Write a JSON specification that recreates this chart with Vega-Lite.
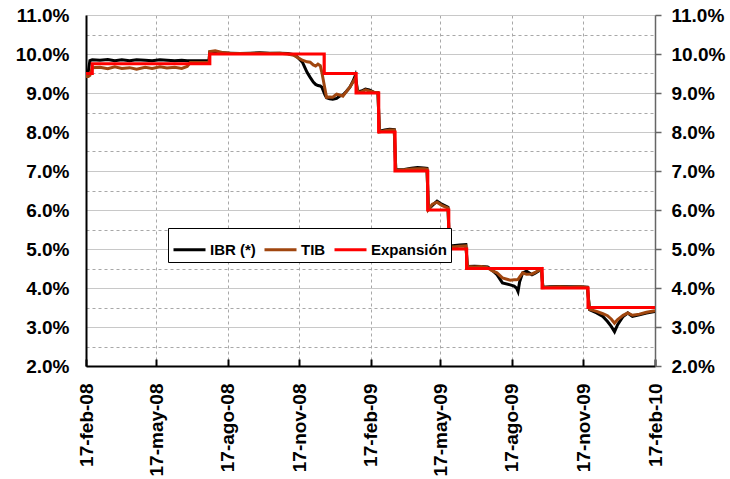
{
  "$schema": "https://vega.github.io/schema/vega-lite/v6.json",
  "width": 569,
  "height": 351,
  "autosize": "none",
  "padding": {"left": 86, "top": 15, "right": 75, "bottom": 113},
  "background": "white",
  "config": {
    "view": {"stroke": null},
    "font": "Liberation Sans",
    "axis": {"labelFont": "Liberation Sans", "labelFontWeight": "bold", "labelFontSize": 19, "labelColor": "#000", "labelOverlap": false, "labelFlush": false, "title": null},
    "legend": {
      "orient": "none", "legendX": 82, "legendY": 213, "direction": "horizontal",
      "title": null, "strokeColor": "#000", "strokeWidth": 1, "fillColor": "white",
      "padding": 4, "symbolType": "stroke", "symbolSize": 1024, "symbolStrokeWidth": 3,
      "labelFont": "Liberation Sans", "labelFontWeight": "bold", "labelFontSize": 15, "labelColor": "#000",
      "labelOffset": 3, "columnPadding": 2
    }
  },
  "datasets": {
    "mkt": [
      {"d":"2008-02-17","i":9.55,"t":9.42},
      {"d":"2008-02-20","i":9.55,"t":9.42},
      {"d":"2008-02-22","i":9.83,"t":9.45},
      {"d":"2008-02-25","i":9.85,"t":9.65},
      {"d":"2008-03-06","i":9.84,"t":9.66},
      {"d":"2008-03-16","i":9.86,"t":9.62},
      {"d":"2008-03-25","i":9.83,"t":9.67},
      {"d":"2008-04-03","i":9.85,"t":9.63},
      {"d":"2008-04-13","i":9.83,"t":9.65},
      {"d":"2008-04-22","i":9.85,"t":9.61},
      {"d":"2008-05-03","i":9.84,"t":9.66},
      {"d":"2008-05-12","i":9.83,"t":9.63},
      {"d":"2008-05-22","i":9.85,"t":9.67},
      {"d":"2008-05-31","i":9.84,"t":9.64},
      {"d":"2008-06-10","i":9.83,"t":9.66},
      {"d":"2008-06-19","i":9.84,"t":9.63},
      {"d":"2008-06-26","i":9.83,"t":9.68},
      {"d":"2008-06-30","i":9.83,"t":9.78},
      {"d":"2008-07-12","i":9.83,"t":9.78},
      {"d":"2008-07-23","i":9.83,"t":9.78},
      {"d":"2008-07-24","i":9.83,"t":9.78},
      {"d":"2008-07-25","i":10.05,"t":10.06},
      {"d":"2008-08-01","i":10.04,"t":10.08},
      {"d":"2008-08-10","i":10.03,"t":10.04},
      {"d":"2008-08-20","i":10.02,"t":10.02},
      {"d":"2008-09-02","i":10.01,"t":10.01},
      {"d":"2008-09-15","i":10.02,"t":10.01},
      {"d":"2008-09-27","i":10.03,"t":10.02},
      {"d":"2008-10-10","i":10.02,"t":10.01},
      {"d":"2008-10-23","i":10.02,"t":10.02},
      {"d":"2008-11-02","i":10.01,"t":10.00},
      {"d":"2008-11-10","i":9.98,"t":9.97},
      {"d":"2008-11-14","i":9.93,"t":9.92},
      {"d":"2008-11-21","i":9.79,"t":9.84},
      {"d":"2008-11-27","i":9.53,"t":9.80},
      {"d":"2008-12-01","i":9.40,"t":9.79},
      {"d":"2008-12-05","i":9.28,"t":9.72},
      {"d":"2008-12-08","i":9.22,"t":9.69},
      {"d":"2008-12-11","i":9.19,"t":9.74},
      {"d":"2008-12-14","i":9.18,"t":9.70},
      {"d":"2008-12-16","i":9.15,"t":9.53},
      {"d":"2008-12-20","i":8.95,"t":9.10},
      {"d":"2008-12-22","i":8.88,"t":8.89},
      {"d":"2008-12-26","i":8.85,"t":8.90},
      {"d":"2008-12-30","i":8.84,"t":8.89},
      {"d":"2009-01-04","i":8.86,"t":8.97},
      {"d":"2009-01-08","i":8.92,"t":8.95},
      {"d":"2009-01-12","i":8.95,"t":8.92},
      {"d":"2009-01-17","i":9.05,"t":9.05},
      {"d":"2009-01-21","i":9.15,"t":9.15},
      {"d":"2009-01-25","i":9.30,"t":9.28},
      {"d":"2009-01-28","i":9.45,"t":9.38},
      {"d":"2009-01-31","i":9.03,"t":9.02},
      {"d":"2009-02-05","i":9.05,"t":9.03},
      {"d":"2009-02-10","i":9.10,"t":9.08},
      {"d":"2009-02-15","i":9.08,"t":9.05},
      {"d":"2009-02-21","i":9.02,"t":9.02},
      {"d":"2009-02-26","i":9.01,"t":9.01},
      {"d":"2009-02-28","i":8.02,"t":8.00},
      {"d":"2009-03-07","i":8.05,"t":8.03},
      {"d":"2009-03-13","i":8.07,"t":8.05},
      {"d":"2009-03-19","i":8.06,"t":8.05},
      {"d":"2009-03-21","i":7.03,"t":7.02},
      {"d":"2009-04-01","i":7.04,"t":7.03},
      {"d":"2009-04-10","i":7.07,"t":7.05},
      {"d":"2009-04-18","i":7.09,"t":7.06},
      {"d":"2009-04-26","i":7.08,"t":7.06},
      {"d":"2009-04-30","i":7.07,"t":7.05},
      {"d":"2009-05-02","i":6.02,"t":6.02},
      {"d":"2009-05-07","i":6.12,"t":6.15},
      {"d":"2009-05-13","i":6.23,"t":6.20},
      {"d":"2009-05-19","i":6.15,"t":6.12},
      {"d":"2009-05-27","i":6.07,"t":6.05},
      {"d":"2009-05-29","i":5.08,"t":5.05},
      {"d":"2009-06-05","i":5.09,"t":5.06},
      {"d":"2009-06-11","i":5.10,"t":5.07},
      {"d":"2009-06-19","i":5.11,"t":5.08},
      {"d":"2009-06-21","i":4.55,"t":4.55},
      {"d":"2009-06-30","i":4.56,"t":4.54},
      {"d":"2009-07-09","i":4.55,"t":4.55},
      {"d":"2009-07-17","i":4.54,"t":4.52},
      {"d":"2009-07-22","i":4.47,"t":4.45},
      {"d":"2009-07-29","i":4.34,"t":4.39},
      {"d":"2009-08-05","i":4.13,"t":4.26},
      {"d":"2009-08-15","i":4.08,"t":4.20},
      {"d":"2009-08-20","i":4.05,"t":4.21},
      {"d":"2009-08-23","i":4.00,"t":4.21},
      {"d":"2009-08-25","i":3.91,"t":4.22},
      {"d":"2009-08-27","i":4.15,"t":4.28},
      {"d":"2009-08-31","i":4.39,"t":4.39},
      {"d":"2009-09-05","i":4.43,"t":4.35},
      {"d":"2009-09-12","i":4.34,"t":4.36},
      {"d":"2009-09-16","i":4.38,"t":4.40},
      {"d":"2009-09-20","i":4.43,"t":4.45},
      {"d":"2009-09-24","i":4.48,"t":4.47},
      {"d":"2009-09-26","i":4.02,"t":4.01},
      {"d":"2009-10-05","i":4.03,"t":4.02},
      {"d":"2009-10-18","i":4.04,"t":4.03},
      {"d":"2009-10-31","i":4.03,"t":4.02},
      {"d":"2009-11-13","i":4.03,"t":4.03},
      {"d":"2009-11-22","i":4.02,"t":4.01},
      {"d":"2009-11-25","i":3.44,"t":3.45},
      {"d":"2009-12-04","i":3.36,"t":3.40},
      {"d":"2009-12-12","i":3.27,"t":3.34},
      {"d":"2009-12-18","i":3.14,"t":3.29},
      {"d":"2009-12-23","i":3.01,"t":3.20},
      {"d":"2009-12-27","i":2.88,"t":3.10},
      {"d":"2009-12-31","i":3.06,"t":3.19},
      {"d":"2010-01-07","i":3.27,"t":3.30},
      {"d":"2010-01-13","i":3.36,"t":3.36},
      {"d":"2010-01-19","i":3.27,"t":3.30},
      {"d":"2010-01-28","i":3.31,"t":3.33},
      {"d":"2010-02-06","i":3.36,"t":3.38},
      {"d":"2010-02-17","i":3.40,"t":3.42}
    ],
    "exp": [
      {"d":"2008-02-17","v":9.5},
      {"d":"2008-02-25","v":9.75},
      {"d":"2008-07-25","v":10.0},
      {"d":"2008-12-19","v":9.5},
      {"d":"2009-01-29","v":9.0},
      {"d":"2009-02-27","v":8.0},
      {"d":"2009-03-20","v":7.0},
      {"d":"2009-05-01","v":6.0},
      {"d":"2009-05-28","v":5.0},
      {"d":"2009-06-20","v":4.5},
      {"d":"2009-09-25","v":4.0},
      {"d":"2009-11-23","v":3.5},
      {"d":"2010-02-17","v":3.5}
    ]
  },
  "resolve": {"axis": {"y": "independent"}},
  "layer": [
    {
      "data": {"name": "mkt"},
      "transform": [{"fold": ["i", "t"], "as": ["s", "v"]}],
      "mark": {"type": "line", "strokeWidth": 3, "clip": true},
      "encoding": {
        "x": {
          "field": "d", "type": "temporal",
          "scale": {"type": "utc", "domain": [{"year": 2008, "month": 2, "date": 17, "utc": true}, {"year": 2010, "month": 2, "date": 17, "utc": true}], "nice": false},
          "axis": {
            "orient": "bottom",
            "values": [
              {"year": 2008, "month": 2, "date": 17, "utc": true},
              {"year": 2008, "month": 5, "date": 17, "utc": true},
              {"year": 2008, "month": 8, "date": 17, "utc": true},
              {"year": 2008, "month": 11, "date": 17, "utc": true},
              {"year": 2009, "month": 2, "date": 17, "utc": true},
              {"year": 2009, "month": 5, "date": 17, "utc": true},
              {"year": 2009, "month": 8, "date": 17, "utc": true},
              {"year": 2009, "month": 11, "date": 17, "utc": true},
              {"year": 2010, "month": 2, "date": 17, "utc": true}
            ],
            "labelExpr": "utcdate(datum.value) + '-' + substring('enefebmarabrmayjunjulagosepoctnovdic', utcmonth(datum.value)*3, utcmonth(datum.value)*3+3) + '-' + utcFormat(datum.value, '%y')",
            "labelAngle": -90,
            "labelPadding": 24,
            "domainColor": "#000", "domainWidth": 2,
            "ticks": true, "tickSize": -7, "tickColor": "#000", "tickWidth": 2,
            "grid": true, "gridDash": [3, 3], "gridColor": "#a8a8a8", "gridWidth": 1
          }
        },
        "y": {
          "field": "v", "type": "quantitative",
          "scale": {"domain": [2, 11], "nice": false, "zero": false},
          "axis": {
            "orient": "left",
            "values": [2, 2.5, 3, 3.5, 4, 4.5, 5, 5.5, 6, 6.5, 7, 7.5, 8, 8.5, 9, 9.5, 10, 10.5, 11],
            "labelExpr": "datum.value % 1 == 0 ? format(datum.value, '.1f') + '%' : ''",
            "labelPadding": 17,
            "ticks": false,
            "domainColor": "#000", "domainWidth": 2,
            "grid": true,
            "gridColor": {"condition": {"test": "datum.value % 1 != 0", "value": "#a8a8a8"}, "value": "#c8c8c8"},
            "gridDash": {"condition": {"test": "datum.value % 1 != 0", "value": [3, 3]}, "value": []},
            "gridWidth": 1.2
          }
        },
        "color": {
          "field": "s", "type": "nominal",
          "scale": {"domain": ["i", "t", "e"], "range": ["#000000", "#A0460F", "#FF0000"]},
          "legend": {"labelExpr": "datum.label == 'i' ? 'IBR (*)' : datum.label == 't' ? 'TIB' : 'Expansión'"}
        }
      }
    },
    {
      "data": {"name": "exp"},
      "mark": {"type": "line", "strokeWidth": 3.2, "interpolate": "step-after", "clip": true},
      "encoding": {
        "x": {"field": "d", "type": "temporal"},
        "y": {
          "field": "v", "type": "quantitative",
          "axis": {
            "orient": "right",
            "values": [2, 3, 4, 5, 6, 7, 8, 9, 10, 11],
            "labelExpr": "format(datum.value, '.1f') + '%'",
            "labelPadding": 10,
            "ticks": true, "tickSize": 6, "tickColor": "#666", "tickWidth": 1.5,
            "domainColor": "#666", "domainWidth": 1.5,
            "grid": false
          }
        },
        "color": {"datum": "e", "type": "nominal"}
      }
    }
  ]
}
